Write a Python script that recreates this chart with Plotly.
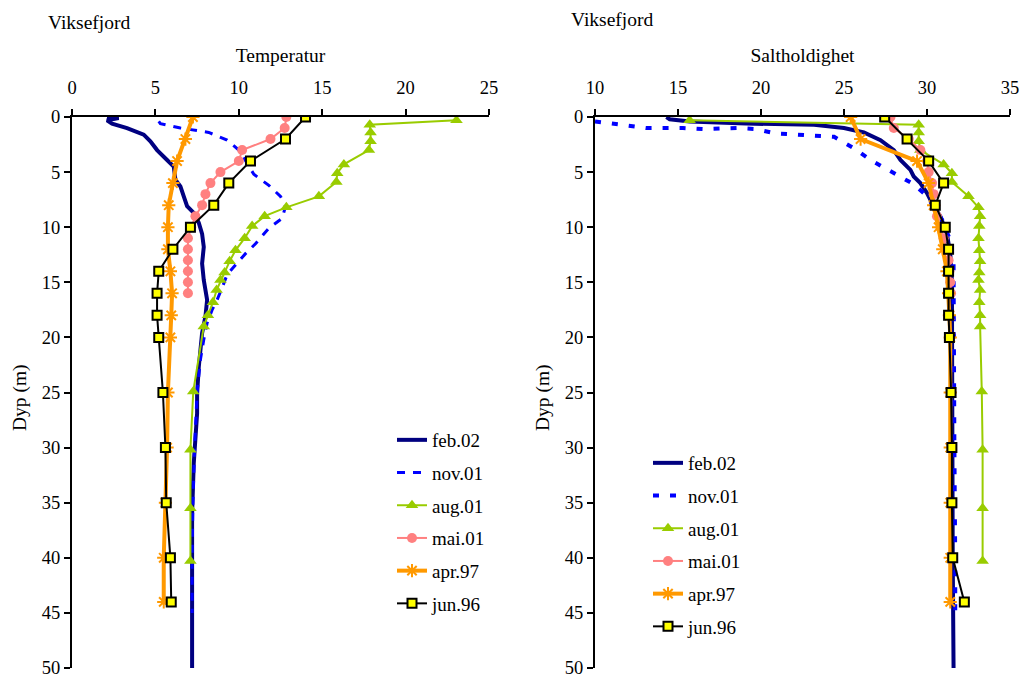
import plotly.graph_objects as go

# ---------------- data ----------------
series_names = ["feb.02", "nov.01", "aug.01", "mai.01", "apr.97", "jun.96"]

# feb.02 (CTD profile)
feb02_T_depth = [0.0, 0.1, 0.3, 0.6, 1.0, 1.6, 2.2, 3.0, 3.9, 4.5, 5.7, 6.3, 7.2, 8.1, 8.7, 9.6,
                 10.6, 11.8, 13.3, 14.8, 16.6, 18.1, 19.6, 21.1, 22.7, 25.1, 26.9, 31.4, 36.0, 50.0]
feb02_T = [2.1, 2.8, 2.1, 2.4, 3.3, 4.3, 4.7, 5.1, 5.7, 6.1, 6.2, 6.5, 6.7, 6.9, 7.3, 7.6,
           7.8, 7.9, 7.8, 7.9, 8.1, 8.0, 7.8, 7.7, 7.6, 7.5, 7.5, 7.3, 7.2, 7.2]
feb02_S_depth = [0.0, 0.2, 0.4, 0.6, 0.7, 1.0, 1.4, 2.1, 3.0, 3.9, 4.8, 5.4, 6.0, 6.9, 8.1, 9.0,
                 10.6, 12.4, 14.8, 20.0, 30.0, 40.0, 50.0]
feb02_S = [14.3, 14.5, 15.7, 19.1, 23.2, 25.0, 26.2, 27.2, 28.0, 28.4, 29.0, 29.2, 29.6, 30.0, 30.4, 30.8,
           31.2, 31.4, 31.5, 31.5, 31.5, 31.55, 31.6]

# nov.01
nov01_T_depth = [0.4, 0.6, 1.0, 1.4, 2.1, 3.0, 4.2, 5.2, 6.2, 7.2, 8.1, 9.2, 10.1, 11.5, 12.4, 13.4,
                 14.3, 15.5, 16.6, 17.5, 18.7, 20.2, 22.0, 25.0, 30.0, 35.0, 40.0, 45.0]
nov01_T = [5.2, 5.3, 6.5, 8.2, 9.3, 10.0, 10.5, 10.9, 11.8, 12.5, 12.8, 12.6, 11.8, 11.0, 10.4, 9.8,
           9.3, 9.0, 8.7, 8.4, 8.1, 7.9, 7.7, 7.5, 7.35, 7.25, 7.2, 7.2]
nov01_S_depth = [0.4, 0.8, 1.0, 1.0, 1.0, 1.1, 1.0, 1.1, 1.5, 1.6, 1.8, 2.85, 3.9, 4.75, 5.7, 6.1,
                 6.9, 8.1, 9.3, 11.2, 13.3, 20.0, 30.0, 40.0, 45.0]
nov01_S = [10.0, 12.1, 13.1, 14.2, 15.3, 16.5, 18.6, 19.7, 20.9, 22.2, 24.4, 25.6, 26.6, 27.6, 28.7, 29.2,
           29.8, 30.4, 30.9, 31.4, 31.6, 31.6, 31.65, 31.7, 31.7]

# aug.01
aug01_depth = [0.3, 0.7, 1.4, 2.2, 3.0, 4.3, 5.1, 5.9, 7.2, 8.2, 9.0, 9.9, 11.0, 12.1, 13.1, 14.1,
               14.8, 15.7, 16.8, 18.0, 19.0, 24.9, 30.2, 35.5, 40.3]
aug01_T = [23.05, 17.85, 17.9, 17.9, 17.8, 16.3, 15.9, 15.85, 14.8, 12.85, 11.55, 10.8, 10.35, 9.8, 9.45, 9.15,
           8.9, 8.67, 8.45, 8.15, 7.9, 7.27, 7.1, 7.1, 7.1]
aug01_S = [15.7, 29.5, 29.5, 29.5, 29.6, 31.0, 31.5, 31.5, 32.5, 33.1, 33.2, 33.15, 33.1, 33.15, 33.2, 33.15,
           33.1, 33.2, 33.15, 33.2, 33.2, 33.3, 33.35, 33.35, 33.35]

# mai.01
mai01_depth = [0, 1, 2, 3, 4, 5, 6, 7, 8, 9, 10, 11, 12, 13, 14, 15, 16]
mai01_T = [12.85, 12.75, 11.9, 10.2, 10.0, 8.9, 8.3, 8.0, 7.8, 7.4, 7.15, 6.95, 6.95, 6.95, 6.95, 6.95, 6.95]
mai01_S = [27.8, 28.0, 28.9, 29.6, 30.0, 30.1, 30.3, 30.4, 30.5, 30.6, 30.8, 31.0, 31.2, 31.3, 31.35, 31.4, 31.45]

# apr.97
apr97_depth = [0, 2, 4, 6, 8, 10, 12, 14, 16, 18, 20, 25, 30, 35, 40, 44]
apr97_T = [7.25, 6.8, 6.3, 6.05, 5.8, 5.75, 5.75, 5.9, 6.0, 5.95, 5.9, 5.75, 5.7, 5.6, 5.5, 5.5]
apr97_S = [25.4, 26.0, 29.4, 30.1, 30.4, 30.7, 30.95, 31.2, 31.3, 31.35, 31.4, 31.4, 31.4, 31.4, 31.4, 31.4]

# jun.96
jun96_depth = [0, 2, 4, 6, 8, 10, 12, 14, 16, 18, 20, 25, 30, 35, 40, 44]
jun96_T = [14.0, 12.8, 10.7, 9.4, 8.5, 7.1, 6.05, 5.2, 5.1, 5.1, 5.2, 5.45, 5.6, 5.65, 5.9, 5.95]
jun96_S = [27.45, 28.8, 30.1, 31.0, 30.5, 31.1, 31.3, 31.3, 31.3, 31.3, 31.35, 31.45, 31.5, 31.5, 31.55, 32.25]

# axis ticks
depth_ticks = [0, 5, 10, 15, 20, 25, 30, 35, 40, 45, 50]
temp_ticks = [0, 5, 10, 15, 20, 25]
sal_ticks = [10, 15, 20, 25, 30, 35]

# ---------------- styling ----------------
FONT = "Liberation Serif, Times New Roman, serif"
W, H = 1021, 678
TITLE_SIZE = 19.5
TICK_SIZE = 18.5

styles = {
    "feb.02": dict(mode="lines", line=dict(color="#000080", width=4)),
    "nov.01": dict(mode="lines", line=dict(color="#0000FF", width=3, dash="8px,8px")),
    "aug.01": dict(mode="lines+markers", line=dict(color="#99CC00", width=2),
                   marker=dict(symbol="triangle-up", size=11, color="#99CC00")),
    "mai.01": dict(mode="lines+markers", line=dict(color="#FF8080", width=2),
                   marker=dict(symbol="circle", size=10, color="#FF8080")),
    "apr.97": dict(mode="lines+markers", line=dict(color="#FF9900", width=4),
                   marker=dict(symbol="asterisk-open", size=11, color="#FF9900",
                               line=dict(color="#FF9900", width=2))),
    "jun.96": dict(mode="lines+markers", line=dict(color="#000000", width=2),
                   marker=dict(symbol="square", size=9, color="#FFFF00",
                               line=dict(color="#000000", width=2))),
}

fig = go.Figure()

left = [
    ("feb.02", feb02_T, feb02_T_depth),
    ("nov.01", nov01_T, nov01_T_depth),
    ("aug.01", aug01_T, aug01_depth),
    ("mai.01", mai01_T, mai01_depth),
    ("apr.97", apr97_T, apr97_depth),
    ("jun.96", jun96_T, jun96_depth),
]
right = [
    ("feb.02", feb02_S, feb02_S_depth),
    ("nov.01", nov01_S, nov01_S_depth),
    ("aug.01", aug01_S, aug01_depth),
    ("mai.01", mai01_S, mai01_depth),
    ("apr.97", apr97_S, apr97_depth),
    ("jun.96", jun96_S, jun96_depth),
]

for name, xs, ys in left:
    st = dict(styles[name])
    fig.add_trace(go.Scatter(x=xs, y=ys, name=name, xaxis="x", yaxis="y",
                             legend="legend", legendgroup="L" + name, **st))
for name, xs, ys in right:
    st = dict(styles[name])
    if name == "nov.01":
        st = dict(mode="lines", line=dict(color="#0000FF", width=4, dash="6px,11px"))
    fig.add_trace(go.Scatter(x=xs, y=ys, name=name, xaxis="x2", yaxis="y2",
                             legend="legend2", legendgroup="R" + name, **st))

def xd(a, b):
    return [a / W, b / W]

ydom = [1 - 668 / H, 1 - 117 / H]

axis_common = dict(showline=True, linecolor="black", linewidth=2, ticks="outside",
                   ticklen=6, tickwidth=1.5, tickcolor="black", showgrid=False,
                   zeroline=False, tickfont=dict(family=FONT, size=TICK_SIZE, color="black"),
                   mirror=False, automargin=False, ticklabeloverflow="allow")

fig.update_layout(
    width=W, height=H,
    margin=dict(l=0, r=0, t=0, b=0, autoexpand=False),
    paper_bgcolor="white", plot_bgcolor="white",
    font=dict(family=FONT, size=18, color="black"),
    xaxis=dict(domain=xd(72, 489), range=[0, 25], tickvals=temp_ticks, side="top",
               anchor="y", ticklabelstandoff=8,
               title=dict(text="Temperatur", font=dict(family=FONT, size=TITLE_SIZE), standoff=10),
               **axis_common),
    yaxis=dict(domain=ydom, range=[50, 0], tickvals=depth_ticks, anchor="x",
               **axis_common),
    xaxis2=dict(domain=xd(595, 1010), range=[10, 35], tickvals=sal_ticks, side="top",
                anchor="y2", ticklabelstandoff=8,
                title=dict(text="Saltholdighet", font=dict(family=FONT, size=TITLE_SIZE), standoff=10),
                **axis_common),
    yaxis2=dict(domain=ydom, range=[50, 0], tickvals=depth_ticks, anchor="x2",
                **axis_common),
    legend=dict(x=(436 - 44) / W, y=1 - 421 / H, xanchor="left", yanchor="top",
                font=dict(family=FONT, size=19, color="black"), tracegroupgap=5,
                bgcolor="rgba(0,0,0,0)"),
    legend2=dict(x=(692 - 44) / W, y=1 - 444 / H, xanchor="left", yanchor="top",
                 font=dict(family=FONT, size=19, color="black"), tracegroupgap=5,
                 bgcolor="rgba(0,0,0,0)"),
    annotations=[
        dict(text="Viksefjord", x=46 / W, y=1 - 22 / H, xref="paper", yref="paper",
             xanchor="left", yanchor="middle", showarrow=False, font=dict(family=FONT, size=TITLE_SIZE)),
        dict(text="Viksefjord", x=569 / W, y=1 - 20 / H, xref="paper", yref="paper",
             xanchor="left", yanchor="middle", showarrow=False, font=dict(family=FONT, size=TITLE_SIZE)),
        dict(text="Dyp (m)", x=20 / W, y=1 - 398 / H, xref="paper", yref="paper",
             xanchor="center", yanchor="middle", textangle=-90, showarrow=False,
             font=dict(family=FONT, size=TITLE_SIZE)),
        dict(text="Dyp (m)", x=543 / W, y=1 - 398 / H, xref="paper", yref="paper",
             xanchor="center", yanchor="middle", textangle=-90, showarrow=False,
             font=dict(family=FONT, size=TITLE_SIZE)),
    ],
)

# the page's default 8px body margin would shift the figure; remove it
fig.write_html("out.html", config={"displayModeBar": False},
               post_script="document.body.style.margin='0';")
